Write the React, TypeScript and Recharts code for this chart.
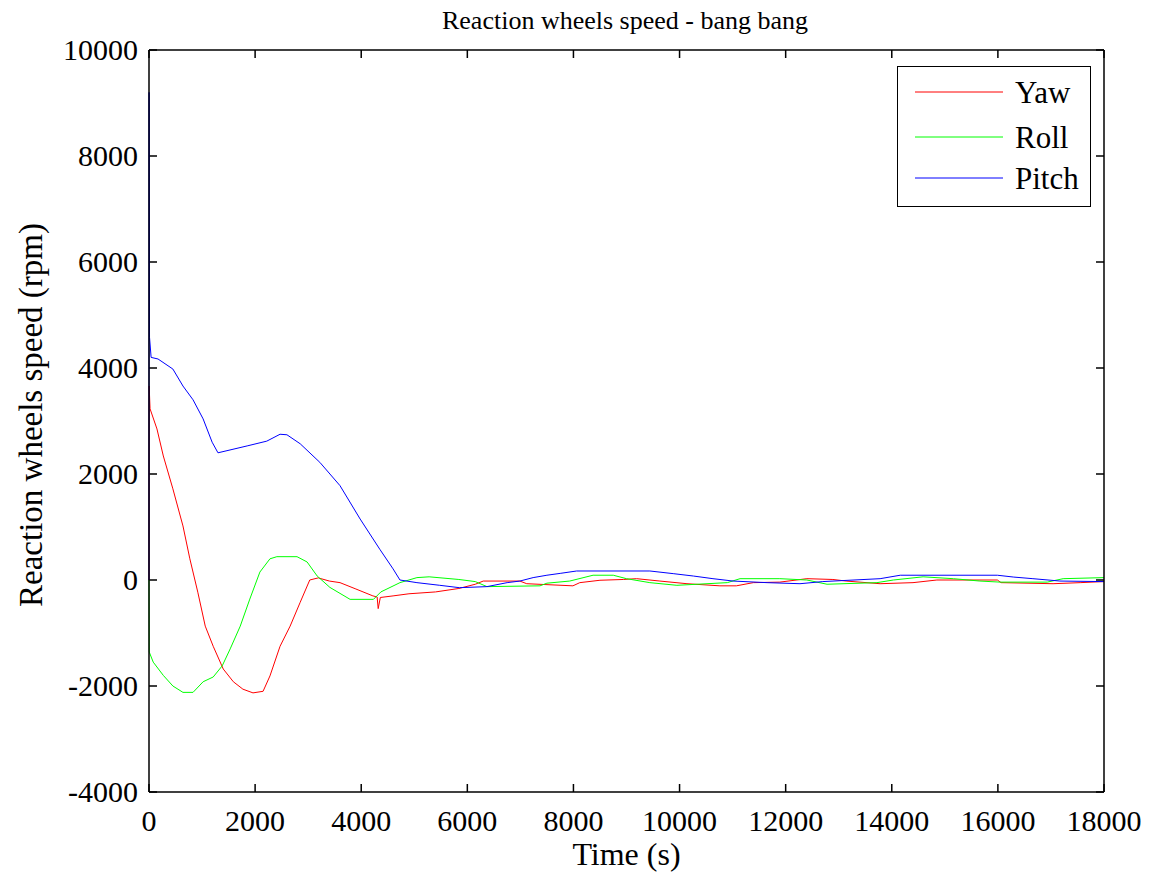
import { LineChart, Line, XAxis, YAxis, Legend, ReferenceLine } from 'recharts'

const FONT = '"Liberation Serif", "Times New Roman", serif'

// time ticks and speed ticks
const xTicks = [0, 2000, 4000, 6000, 8000, 10000, 12000, 14000, 16000, 18000]
const yTicks = [-4000, -2000, 0, 2000, 4000, 6000, 8000, 10000]
const seriesNames = ['Yaw', 'Roll', 'Pitch']

// Yaw wheel (red)
const yawT = [0, 3, 20, 150, 270, 450, 640, 770, 920, 1060, 1210, 1400, 1590, 1770, 1960, 2150, 2280, 2470, 2660, 2850, 3030, 3190, 3400, 3600, 3900, 4220, 4300, 4320, 4360, 4600, 4900, 5400, 5840, 6150, 6300, 6990, 7120, 7990, 8120, 8500, 8940, 9190, 9630, 10140, 10760, 11070, 11390, 11890, 12400, 12890, 13140, 13780, 14400, 14850, 15990, 16060, 17040, 17550, 18000]
const yawV = [0, 3660, 3230, 2850, 2340, 1720, 1020, 400, -230, -870, -1250, -1680, -1920, -2060, -2130, -2100, -1810, -1250, -870, -420, 0, 40, -20, -50, -170, -300, -320, -540, -330, -300, -260, -225, -160, -80, -20, -20, -70, -110, -50, -5, 10, 25, -20, -70, -110, -110, -50, -40, 25, 10, -20, -70, -50, 0, 0, -50, -70, -50, -30]

// Roll wheel (green)
const rollT = [0, 5, 80, 270, 450, 640, 830, 1020, 1210, 1380, 1530, 1720, 1900, 2090, 2280, 2410, 2790, 2980, 3170, 3410, 3790, 4230, 4370, 4730, 5050, 5280, 5840, 6150, 6370, 7370, 7500, 7930, 8370, 8750, 9000, 9440, 9950, 10900, 11140, 11890, 12400, 12780, 13720, 14030, 14590, 15160, 15660, 16040, 16930, 17230, 18000]
const rollV = [0, -1360, -1550, -1800, -2000, -2120, -2120, -1920, -1830, -1620, -1300, -870, -360, 150, 400, 440, 440, 340, 75, -140, -365, -365, -225, -50, 45, 60, 10, -30, -125, -110, -60, -20, 90, 90, 25, -50, -100, -50, 25, 25, 0, -80, -50, 0, 60, 25, -20, -40, -40, 25, 45]

// Pitch wheel (blue)
const pitchT = [0, 2, 10, 40, 170, 450, 640, 830, 1020, 1190, 1300, 1470, 1850, 2220, 2470, 2600, 2850, 3220, 3600, 3980, 4350, 4600, 4730, 5050, 5480, 5850, 6370, 6750, 6990, 7240, 7500, 7750, 8060, 9440, 9880, 10260, 10630, 11010, 11650, 12270, 12700, 13780, 14160, 15990, 16300, 16660, 17170, 18000]
const pitchV = [0, 9200, 4580, 4200, 4170, 3980, 3660, 3400, 3040, 2600, 2400, 2440, 2530, 2620, 2750, 2740, 2570, 2220, 1780, 1150, 580, 210, 0, -50, -100, -145, -125, -50, -20, 45, 90, 125, 170, 170, 120, 75, 25, -20, -50, -70, -30, 25, 90, 90, 55, 25, -20, -30]

const zip = (t: number[], v: number[]) => t.map((x, i) => ({ t: x, v: v[i] }))

const TICK = 8
const txt = { fontFamily: FONT }
const frame = { stroke: '#000', strokeWidth: 1.5 }

function BottomTick(props: any) {
  const { x, y, payload } = props
  return (
    <text x={x} y={y + 39} textAnchor="middle" fontSize={30} style={txt} fill="#000">
      {payload.value}
    </text>
  )
}

function LeftTick(props: any) {
  const { x, y, payload } = props
  return (
    <text x={x - 11} y={y + 10} textAnchor="end" fontSize={30} style={txt} fill="#000">
      {payload.value}
    </text>
  )
}

// inward tick marks on both edges of the box, drawn from a reference line's end points
function VTickPair(p: any) {
  const top = Math.min(p.y1, p.y2)
  const bot = Math.max(p.y1, p.y2)
  return <path d={`M${p.x1},${top}v${TICK}M${p.x1},${bot}v${-TICK}`} stroke="#000" strokeWidth={1.5} fill="none" />
}

function HTickPair(p: any) {
  const left = Math.min(p.x1, p.x2)
  const right = Math.max(p.x1, p.x2)
  return <path d={`M${left},${p.y1}h${TICK}M${right},${p.y1}h${-TICK}`} stroke="#000" strokeWidth={1.5} fill="none" />
}

function YLabel(props: any) {
  const { x, y, height } = props.viewBox
  const cx = x + 31
  const cy = y + height / 2 - 6
  return (
    <text
      x={cx}
      y={cy}
      transform={`rotate(-90, ${cx}, ${cy})`}
      textAnchor="middle"
      dominantBaseline="central"
      fontSize={33}
      style={txt}
      fill="#000"
    >
      Reaction wheels speed (rpm)
    </text>
  )
}

function XLabel(props: any) {
  const { x, y, width } = props.viewBox
  return (
    <text x={x + width / 2} y={y + 73} textAnchor="middle" fontSize={32} style={txt} fill="#000">
      Time (s)
    </text>
  )
}

function LegendBox(props: any) {
  const items = [...(props.payload || [])].sort(
    (a: any, b: any) => seriesNames.indexOf(a.value) - seriesNames.indexOf(b.value)
  )
  const rows = [26, 71, 112]
  return (
    <svg width={194} height={141} style={{ display: 'block' }}>
      <rect x={0.5} y={0.5} width={193} height={140} fill="#fff" stroke="#000" />
      {items.map((it: any, i: number) => (
        <g key={it.value}>
          <line x1={18} x2={106} y1={rows[i]} y2={rows[i]} stroke={it.color} />
          <text x={118} y={rows[i] + 11} fontSize={31} style={txt} fill="#000">
            {it.value}
          </text>
        </g>
      ))}
    </svg>
  )
}

export default function App() {
  return (
    <div style={{ position: 'absolute', left: 0, top: 0, width: 1149, height: 876, background: '#fff' }}>
      <div
        style={{
          position: 'absolute',
          left: 625,
          top: 6,
          transform: 'translateX(-50%)',
          fontFamily: FONT,
          fontSize: 26,
          whiteSpace: 'nowrap',
          lineHeight: '30px',
          zIndex: 2,
        }}
      >
        Reaction wheels speed - bang bang
      </div>
      <LineChart width={1149} height={876} margin={{ top: 49, right: 44, bottom: 0, left: 0 }}>
        <XAxis
          dataKey="t"
          type="number"
          domain={[0, 18000]}
          ticks={xTicks}
          height={84}
          tickSize={0}
          tickMargin={0}
          tickLine={false}
          tick={BottomTick}
          axisLine={frame}
          label={{ content: XLabel }}
        />
        <XAxis
          xAxisId="top"
          orientation="top"
          type="number"
          domain={[0, 18000]}
          ticks={xTicks}
          height={1}
          tickLine={false}
          tick={false}
          axisLine={frame}
        />
        <YAxis
          type="number"
          domain={[-4000, 10000]}
          ticks={yTicks}
          width={149}
          tickSize={0}
          tickMargin={0}
          tickLine={false}
          tick={LeftTick}
          axisLine={frame}
          label={{ content: YLabel }}
        />
        <YAxis
          yAxisId="right"
          orientation="right"
          type="number"
          domain={[-4000, 10000]}
          ticks={yTicks}
          width={1}
          tickLine={false}
          tick={false}
          axisLine={frame}
        />
        {xTicks.map((v) => (
          <ReferenceLine key={`x${v}`} x={v} shape={VTickPair} />
        ))}
        {yTicks.map((v) => (
          <ReferenceLine key={`y${v}`} y={v} shape={HTickPair} />
        ))}
        <Legend
          layout="vertical"
          align="center"
          verticalAlign="middle"
          wrapperStyle={{ left: 897, top: 66, width: 194, height: 141 }}
          content={LegendBox}
        />
        <Line data={zip(yawT, yawV)} dataKey="v" name="Yaw" stroke="#ff0000" strokeWidth={1} dot={false} isAnimationActive={false} />
        <Line data={zip(rollT, rollV)} dataKey="v" name="Roll" stroke="#00ff00" strokeWidth={1} dot={false} isAnimationActive={false} />
        <Line data={zip(pitchT, pitchV)} dataKey="v" name="Pitch" stroke="#0000ff" strokeWidth={1} dot={false} isAnimationActive={false} />
      </LineChart>
    </div>
  )
}
